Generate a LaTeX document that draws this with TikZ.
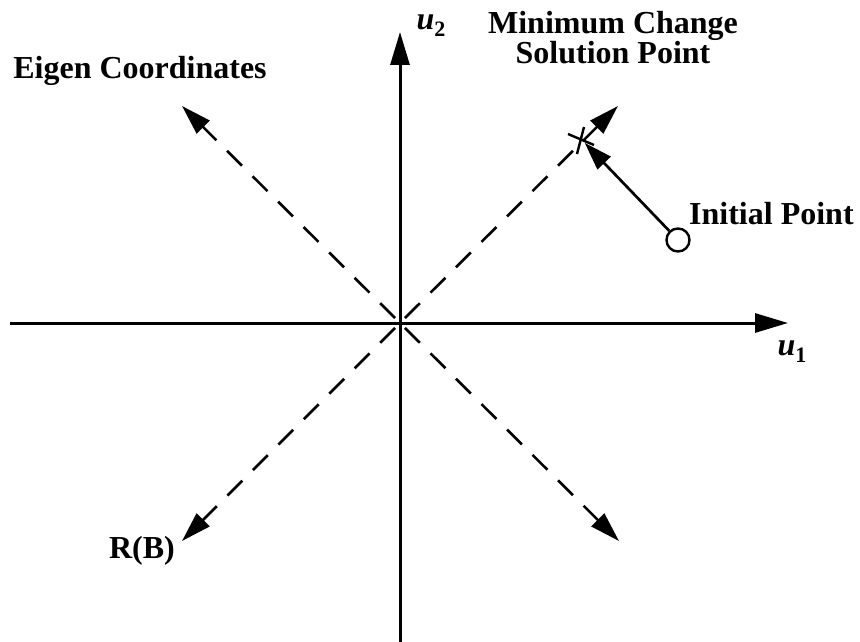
\documentclass[tikz,border=0pt]{standalone}
\usepackage{fontspec}
\setmainfont{Liberation Serif}
\usetikzlibrary{arrows.meta}

\tikzset{
  axis/.style={line width=3pt, -{Triangle[length=33pt,width=19pt]}},
  eigen/.style={line width=2.6pt, dash pattern=on 21pt off 15pt, dash phase=29pt,
    -{Triangle[length=30pt,width=18pt]}},
  lbl/.style={font=\bfseries\fontsize{32}{30}\selectfont, align=center, inner sep=0pt},
  ulbl/.style={font=\bfseries\itshape\fontsize{32}{32}\selectfont, inner sep=0pt}
}

\begin{document}
\begin{tikzpicture}[x=1pt, y=-1pt]
  \useasboundingbox (0,0) rectangle (860,642);
  % axes
  \coordinate (O) at (400,323);
  \coordinate (xl) at (10,323);
  \coordinate (xr) at (788,323);
  \coordinate (yb) at (400,642);
  \coordinate (yt) at (400,32);
  \draw[axis] (xl) -- (xr);
  \draw[axis] (yb) -- (yt);
  % eigen coordinates
  \coordinate (ur) at (618,106);
  \coordinate (ul) at (182,106);
  \coordinate (ll) at (182,541);
  \coordinate (lr) at (619,541);
  \draw[eigen] (O) -- (ur);
  \draw[eigen] (O) -- (ul);
  \draw[eigen] (O) -- (ll);
  \draw[eigen] (O) -- (lr);
  % points
  \coordinate (sol) at (582,140);
  \draw[line width=2.4pt] (sol) +(-14,-6) -- +(12,5) (sol) +(2,-13) -- +(-5,14);
  \node[circle, draw, line width=2.4pt, minimum size=23pt, inner sep=0pt] (init) at (678,240) {};
  \draw[line width=2.7pt, -{Triangle[length=28pt,width=18pt]}, shorten >=4pt] (init) -- (sol);
  % labels
  \node[ulbl] (u2) at (431,26) {u\raisebox{-7pt}{\fontsize{22}{22}\selectfont\upshape 2}};
  \node[ulbl] (u1) at (792,352) {u\raisebox{-7pt}{\fontsize{22}{22}\selectfont\upshape 1}};
  \node[lbl] (minsol) at (613,38) {Minimum Change\\Solution Point};
  \node[lbl] (eig) at (140,71) {Eigen Coordinates};
  \node[lbl, anchor=west] (initlbl) at (689,214) {Initial Point};
  \node[lbl] (rb) at (142,551) {R(B)};
\end{tikzpicture}
\end{document}
